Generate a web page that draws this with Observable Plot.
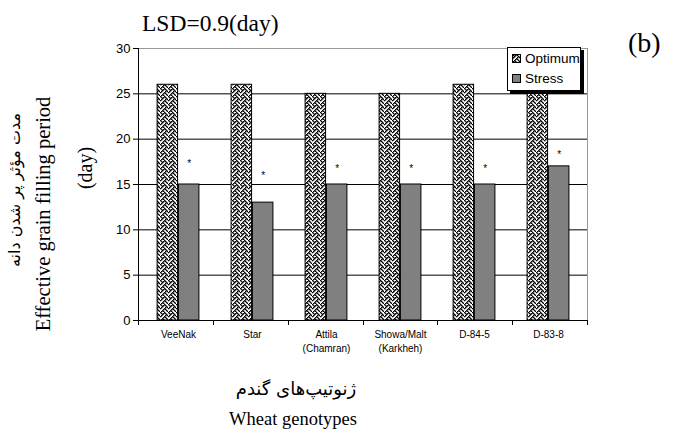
<!DOCTYPE html>
<html>
<head>
<meta charset="utf-8">
<script src="https://cdn.jsdelivr.net/npm/d3@7"></script>
<script src="https://cdn.jsdelivr.net/npm/@observablehq/plot@0.6"></script>
<style>
  html, body { margin: 0; padding: 0; background: white; }
  #wrap { position: relative; width: 678px; height: 440px; overflow: hidden; background: white; }
  .t { position: absolute; white-space: nowrap; color: black; line-height: 1; }
  .serif { font-family: "Liberation Serif", "Times New Roman", serif; }
  .rot { transform: translate(-50%, -50%) rotate(-90deg); }
  .ctr { transform: translate(-50%, -50%); }
  .fa { font-family: "DejaVu Sans", "Noto Sans", sans-serif; direction: rtl; }
  #legend { position: absolute; left: 507px; top: 47px; width: 72px; height: 42px; border: 1px solid black;
            box-shadow: 3px 3px 0 black; background: white; font-family: "Liberation Sans", Arial, sans-serif; font-size: 13.5px; }
  #legend .item { position: absolute; left: 4px; display: flex; align-items: center; }
</style>
</head>
<body>
<svg width="0" height="0" style="position:absolute">
  <defs><pattern id="weave" patternUnits="userSpaceOnUse" width="8" height="8"></pattern></defs>
</svg>
<div id="wrap"></div>
<script>
// ---- data ----
const genotypes = ["VeeNak", "Star", "Attila", "Showa/Malt", "D-84-5", "D-83-8"];
const genotypeLabels = ["VeeNak", "Star", "Attila\n(Chamran)", "Showa/Malt\n(Karkheh)", "D-84-5", "D-83-8"];
const optimum = [26, 26, 25, 25, 26, 25];
const stress = [15, 13, 15, 15, 15, 17];
const starValues = [17.5, 16.2, 16.9, 16.9, 16.9, 18.5];
const yTicks = [0, 5, 10, 15, 20, 25, 30];
const seriesNames = ["Optimum", "Stress"];

// ---- weave pattern (8x8 bitmap) ----
const weaveBits = [0x88, 0x54, 0x22, 0x45, 0x88, 0x14, 0x22, 0x51];
const pat = d3.select("#weave");
pat.append("rect").attr("width", 8).attr("height", 8).attr("fill", "white");
weaveBits.forEach((b, r) => {
  for (let c = 0; c < 8; c++) if (b & (0x80 >> c)) pat.append("rect").attr("x", c).attr("y", r).attr("width", 1.5).attr("height", 1.3).attr("fill", "#000");
});

const optData = genotypes.map((g, i) => ({genotype: g, value: optimum[i]}));
const strData = genotypes.map((g, i) => ({genotype: g, value: stress[i]}));
const starData = genotypes.map((g, i) => ({genotype: g, value: starValues[i]}));
const labelOf = new Map(genotypes.map((g, i) => [g, genotypeLabels[i]]));

const W = 678, H = 440, mL = 138, mR = 91, mT = 48, mB = 120;
const step = (W - mL - mR) / genotypes.length;
const outer = step * 0.215, mid = step * 0.5;

function chrome(index, scales, values, dims) {
  const g = d3.create("svg:g");
  const x0 = dims.marginLeft, x1 = dims.width - dims.marginRight;
  const y0 = dims.height - dims.marginBottom, y1 = dims.marginTop;
  g.append("line").attr("x1", x1 + 0.5).attr("x2", x1 + 0.5).attr("y1", y1).attr("y2", y0).attr("stroke", "#999");
  g.append("line").attr("x1", x0 + 0.5).attr("x2", x0 + 0.5).attr("y1", y1).attr("y2", y0 + 0.5).attr("stroke", "black");
  for (let i = 0; i <= genotypes.length; i++) {
    const x = Math.round(x0 + i * (x1 - x0) / genotypes.length) + 0.5;
    g.append("line").attr("x1", x).attr("x2", x).attr("y1", y0).attr("y2", y0 + 5).attr("stroke", "black");
  }
  return g.node();
}

const chart = Plot.plot({
  width: W, height: H,
  marginLeft: mL, marginRight: mR, marginTop: mT, marginBottom: mB,
  style: {fontFamily: "'Liberation Sans', Arial, sans-serif", fontSize: "10px", color: "black", background: "transparent"},
  x: {domain: genotypes, padding: 0, axis: null},
  y: {domain: [0, 30], axis: null},
  marks: [
    Plot.ruleY([5, 10, 15, 20, 25], {stroke: "black", strokeWidth: 1}),
    Plot.ruleY([30], {stroke: "#999"}),
    Plot.barY(optData, {x: "genotype", y: "value", fill: "url(#weave)", stroke: "black", insetLeft: outer, insetRight: mid}),
    Plot.barY(strData, {x: "genotype", y: "value", fill: "#808080", stroke: "black", insetLeft: mid, insetRight: outer}),
    Plot.text(starData, {x: "genotype", y: "value", text: () => "*", dx: step * 0.1425, dy: 2, fontSize: 10, fill: "black"}),
    Plot.ruleY([0], {stroke: "black"}),
    Plot.axisY({ticks: yTicks, tickSize: 5, tickPadding: 3, fontSize: 13, label: null, stroke: "black", fill: "black"}),
    Plot.axisX({tickSize: 0, tickPadding: 8, tickFormat: d => labelOf.get(d), label: null, fontSize: 10, lineHeight: 1.4, fill: "black"}),
    chrome
  ]
});
const wrap = document.getElementById("wrap");
chart.style.position = "absolute"; chart.style.left = "0"; chart.style.top = "0";
wrap.appendChild(chart);

function addText(txt, cls, left, top, size) {
  const d = document.createElement("div");
  d.className = "t " + cls;
  d.style.left = left + "px"; d.style.top = top + "px"; d.style.fontSize = size + "px";
  d.textContent = txt;
  wrap.appendChild(d);
  return d;
}
addText("LSD=0.9(day)", "serif", 142, 12, 23.5);
addText("(b)", "serif", 628, 29, 28);
addText("مدت مؤثر پر شدن دانه", "fa rot", 15, 190, 16);
addText("Effective grain filling period", "serif rot", 43, 214, 20.5);
addText("(day)", "serif rot", 85, 168, 20);
addText("ژنوتیپ‌های گندم", "fa ctr", 296, 389, 18);
addText("Wheat genotypes", "serif ctr", 293, 419, 18.5);

// legend
const lg = document.createElement("div");
lg.id = "legend";
seriesNames.forEach((name, i) => {
  const it = document.createElement("div");
  it.className = "item";
  it.style.top = (3 + i * 20) + "px";
  const sw = document.createElementNS("http://www.w3.org/2000/svg", "svg");
  sw.setAttribute("width", 9); sw.setAttribute("height", 9); sw.style.marginRight = "4px";
  const r = document.createElementNS("http://www.w3.org/2000/svg", "rect");
  r.setAttribute("x", 0.5); r.setAttribute("y", 0.5); r.setAttribute("width", 8); r.setAttribute("height", 8);
  r.setAttribute("fill", i === 0 ? "url(#weave)" : "#808080"); r.setAttribute("stroke", "black");
  sw.appendChild(r);
  const sp = document.createElement("span"); sp.textContent = name;
  it.appendChild(sw); it.appendChild(sp);
  lg.appendChild(it);
});
wrap.appendChild(lg);
</script>
</body>
</html>
